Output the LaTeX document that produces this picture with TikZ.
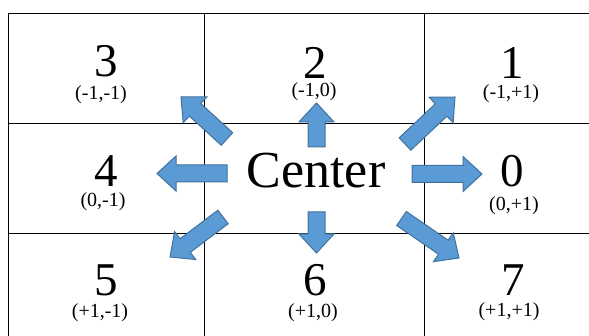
\documentclass[tikz,border=0pt]{standalone}
\usepackage{fontspec}
\setmainfont{Liberation Serif}
\usetikzlibrary{calc}
\definecolor{arrowfill}{HTML}{5B9BD5}
\definecolor{arrowline}{HTML}{41719C}
\newcommand{\blockarrow}[2]{%
  \coordinate (#2b) at ($(#2)!19pt!(#1)$);
  \filldraw[blockarr] ($(#1)!8.5pt!90:(#2)$) -- ($(#2b)!8.5pt!90:(#2)$) -- ($(#2b)!17.5pt!90:(#2)$) -- (#2)
    -- ($(#2b)!17.5pt!-90:(#2)$) -- ($(#2b)!8.5pt!-90:(#2)$) -- ($(#1)!8.5pt!-90:(#2)$) -- cycle;}
\begin{document}
\begin{tikzpicture}[x=1pt,y=-1pt,
  num/.style={font=\fontsize{47}{47}\selectfont, inner sep=0pt},
  idx/.style={font=\fontsize{20}{20}\selectfont, inner sep=0pt},
  grid/.style={line width=1pt},
  blockarr/.style={fill=arrowfill, draw=arrowline, line width=1pt, line join=miter}]
\useasboundingbox (0,0) rectangle (589,336);
\draw[grid] (8,336) -- (8,14) -- (589,14);
\draw[grid] (8,124) -- (589,124);
\draw[grid] (8,234) -- (589,234);
\draw[grid] (204,14) -- (204,336);
\draw[grid] (424,14) -- (424,336);
\node[num] (n3) at (106.5,61.5) {3};
\node[idx] (i3) at (101,94.5) {(-1,-1)};
\node[num] (n2) at (315,63) {2};
\node[idx] (i2) at (314,91.5) {(-1,0)};
\node[num] (n1) at (512,63) {1};
\node[idx] (i1) at (511,93.5) {(-1,+1)};
\node[num] (n4) at (106.5,171) {4};
\node[idx] (i4) at (103,201.5) {(0,-1)};
\node[font=\fontsize{52}{52}\selectfont, inner sep=0pt] (ctr) at (316,171) {Center};
\node[num] (n0) at (512,171) {0};
\node[idx] (i0) at (514,206) {(0,+1)};
\node[num] (n5) at (106.5,280) {5};
\node[idx] (i5) at (100,312.5) {(+1,-1)};
\node[num] (n6) at (315,280) {6};
\node[idx] (i6) at (313,312.5) {(+1,0)};
\node[num] (n7) at (513,280) {7};
\node[idx] (i7) at (509,312) {(+1,+1)};
\coordinate (t2) at (316.5,147);
\coordinate (h2) at (316.5,103);
\coordinate (t6) at (316.5,212);
\coordinate (h6) at (316.5,253);
\coordinate (t4) at (227,173.5);
\coordinate (h4) at (157,173.5);
\coordinate (t0) at (412,174);
\coordinate (h0) at (482,174);
\coordinate (t3) at (227,139);
\coordinate (h3) at (181,97);
\coordinate (t1) at (405,144);
\coordinate (h1) at (455,97);
\coordinate (t5) at (223,217);
\coordinate (h5) at (170,257);
\coordinate (t7) at (401.5,218.5);
\coordinate (h7) at (459,258);
\blockarrow{t2}{h2}
\blockarrow{t6}{h6}
\blockarrow{t4}{h4}
\blockarrow{t0}{h0}
\blockarrow{t3}{h3}
\blockarrow{t1}{h1}
\blockarrow{t5}{h5}
\blockarrow{t7}{h7}
\end{tikzpicture}
\end{document}
